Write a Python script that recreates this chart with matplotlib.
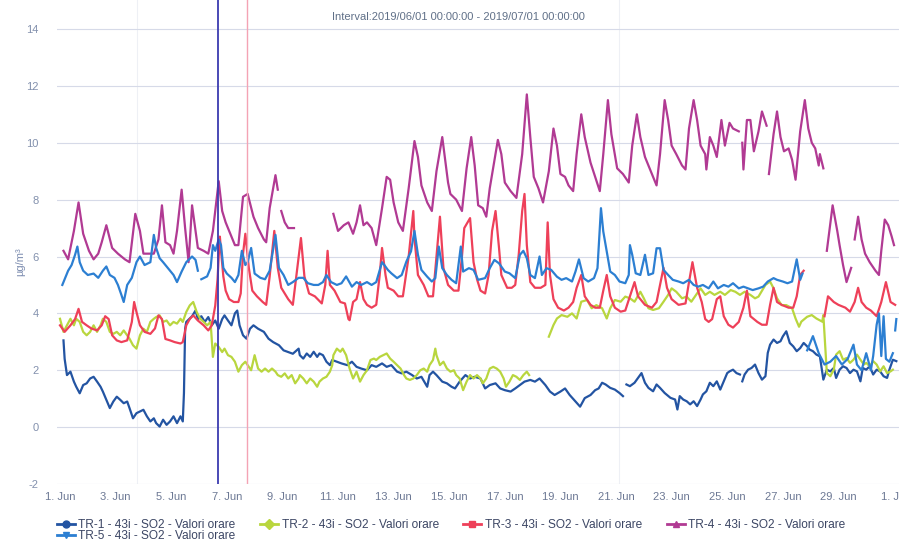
import numpy as np
import pandas as pd
import matplotlib
matplotlib.use("Agg")
import matplotlib.pyplot as plt
from matplotlib.lines import Line2D

nan = np.nan
start = pd.Timestamp("2019-06-01 00:00")

# hours since 1 Jun 00:00 and hourly SO2 values (ug/m3); nan = gap
tr1_h = [3, 4, 6, 9, 12, 14, 17, 20, 23, 26, 29, 32, 35, 37, 40, 43, 46, 49, 52, 55, 58, 60, 63, 66, 69, 72, 75, 78, 81, 83,
         86, 89, 92, 95, 98, 101, 104, 106, 107, 108, 109, 114, 117, 119, 122, 125, 128, 131, 134, 137, 140, 142, 145, 148,
         151, 153, 155, 158, 161, 164, 167, 171, 176, 180, 184, 189, 193, 197, 201, 206, 207, 210, 213, 216, 219, 222, 224,
         227, 230, 233, 235, 239, 243, 248, 252, 256, 260, 265, 269, 273, 278, 282, 286, 291, 295, 299, 304, 308, 312, 317,
         319, 322, 325, 330, 334, 338, 341, 345, 350, 354, 358, 363, 367, 371, 376, 380, 384, 389, 393, 397, 401, 406, 410,
         414, 419, 423, 427, 432, 436, 440, 445, 449, 453, 458, 462, 465, 468, 471, 475, 479, 483, 486, 487, 489, 492, 496,
         499, 502, 505, 508, 512, 515, 518, 522, 527, 531, 533, 535, 538, 541, 544, 547, 550, 553, 555, 558, 561, 564, 567,
         570, 573, 576, 578, 581, 584, 587, 588, 589, 591, 594, 597, 600, 603, 606, 609, 611, 613, 616, 619, 622, 624, 627,
         630, 633, 636, 639, 642, 645, 647, 650, 653, 656, 659, 662, 665, 668, 670, 673, 676, 679, 682, 685, 688, 691, 693,
         696, 699, 702, 705, 708, 711, 714, 716, 719, 722]
tr1_v = [3.05, 2.4, 1.83, 1.95, 1.6, 1.42, 1.19, 1.48, 1.54, 1.71, 1.77, 1.6, 1.42, 1.25, 0.96, 0.67, 0.9, 1.07, 0.96, 0.84,
         0.9, 0.67, 0.31, 0.49, 0.55, 0.61, 0.38, 0.2, 0.31, 0.14, 0.02, 0.26, 0.08, 0.2, 0.38, 0.14, 0.38, 0.2, 1.2, 3.46,
         3.7, 3.9, 4.1, 3.8, 3.9, 3.7, 3.87, 3.58, 3.75, 3.46, 3.8, 3.93, 3.75, 3.58, 4.0, 4.1, 3.58, 3.23, 3.11, 3.46, 3.58,
         3.46, 3.35, 3.11, 2.99, 2.88, 2.7, 2.64, 2.58, 2.76, 2.53, 2.41, 2.59, 2.47, 2.65, 2.47, 2.59, 2.53, 2.3, 2.18, 2.36,
         2.3, 2.24, 2.18, 2.3, 2.12, 2.06, 2.0, 2.18, 2.12, 2.24, 2.12, 2.18, 1.95, 1.89, 1.95, 1.83, 1.71, 1.77, 1.42, 1.83,
         1.95, 1.83, 1.6, 1.54, 1.42, 1.36, 1.6, 1.83, 1.71, 1.77, 1.71, 1.36, 1.48, 1.54, 1.36, 1.3, 1.25, 1.36, 1.48, 1.6,
         1.66, 1.6, 1.71, 1.48, 1.25, 1.13, 1.25, 1.36, 1.13, 0.9, 0.72, 1.02, 1.13, 1.3, 1.36, 1.56, 1.5, 1.38, 1.32, 1.2,
         1.09, nan, 1.5, 1.44, 1.56, 1.73, 1.9, 1.56, 1.38, 1.26, 1.5, 1.38, 1.2, 1.03, 0.97, 0.62, 1.09, 0.97, 0.91, 0.8,
         0.91, 0.74, 0.97, 1.15, 1.26, 1.56, 1.44, 1.61, 1.32, 1.61, 1.9, 1.96, 2.02, 1.9, 1.85, nan, 1.61, 1.85, 2.02, 2.08,
         2.2, 1.9, 1.67, 1.79, 2.61, 2.9, 3.08, 2.96, 3.02, 3.19, 3.37, 2.96, 2.84, 2.67, 2.78, 2.96, 2.84, 2.73, 2.67, 2.55,
         2.49, 1.67, 2.02, 1.96, 2.08, 1.73, 2.02, 2.14, 2.08, 1.9, 2.02, 1.96, 1.61, 2.08, 2.02, 2.14, 1.85, 2.02, 1.96,
         1.79, 1.73, 2.02, 2.37, 2.32]

tr2_h = [0, 3, 6, 9, 12, 14, 17, 20, 23, 26, 29, 32, 35, 37, 40, 43, 46, 49, 52, 55, 58, 60, 63, 66, 69, 72, 75, 78, 81, 83,
         86, 89, 92, 95, 98, 101, 104, 106, 109, 112, 115, 118, 121, 124, 127, 130, 132, 134, 137, 140, 142, 145, 148, 151,
         154, 157, 160, 163, 165, 168, 171, 174, 177, 180, 183, 186, 188, 191, 194, 197, 200, 203, 206, 207, 210, 213, 216,
         219, 222, 224, 227, 230, 233, 235, 236, 239, 242, 244, 247, 250, 253, 256, 259, 262, 265, 268, 271, 273, 276, 279,
         282, 285, 288, 291, 294, 297, 299, 302, 305, 308, 311, 314, 317, 319, 322, 324, 325, 328, 331, 334, 337, 340, 342,
         345, 348, 351, 354, 357, 360, 363, 365, 368, 371, 374, 377, 380, 383, 385, 388, 391, 394, 397, 400, 403, 405, 406,
         422, 426, 429, 433, 438, 442, 446, 450, 455, 459, 463, 468, 472, 475, 479, 484, 488, 492, 496, 501, 504, 508, 512,
         517, 521, 525, 528, 532, 537, 541, 545, 550, 553, 557, 561, 565, 570, 574, 579, 583, 587, 591, 596, 600, 603, 609,
         613, 616, 619, 623, 627, 632, 635, 638, 640, 645, 649, 653, 658, 659, 662, 665, 668, 670, 673, 676, 679, 682, 685,
         688, 691, 694, 696, 699, 702, 705, 708, 711, 714, 717, 719]
tr2_v = [3.81, 3.35, 3.58, 3.81, 3.58, 3.81, 3.7, 3.35, 3.23, 3.35, 3.58, 3.35, 3.58, 3.81, 3.7, 3.35, 3.28, 3.35, 3.23,
         3.4, 3.23, 3.11, 2.88, 2.76, 3.23, 3.46, 3.35, 3.7, 3.81, 3.87, 3.93, 3.7, 3.75, 3.58, 3.7, 3.64, 3.81, 3.7, 4.05,
         4.28, 4.4, 4.05, 3.81, 3.7, 3.58, 3.7, 2.47, 2.94, 2.82, 2.64, 2.76, 2.53, 2.47, 2.3, 1.95, 2.18, 2.3, 2.12, 2.0,
         2.53, 2.06, 1.95, 2.06, 1.95, 2.06, 1.95, 1.83, 1.77, 1.89, 1.71, 1.83, 1.54, 1.71, 1.83, 1.71, 1.54, 1.71, 1.6,
         1.42, 1.6, 1.71, 1.77, 1.95, 2.18, 2.53, 2.76, 2.65, 2.76, 2.53, 2.06, 1.71, 1.95, 1.6, 1.83, 2.0, 2.36, 2.41, 2.36,
         2.47, 2.53, 2.59, 2.41, 2.3, 2.18, 2.06, 1.83, 1.71, 1.66, 1.71, 1.83, 2.0, 2.06, 1.95, 2.18, 2.36, 2.76, 2.53,
         2.18, 2.3, 2.06, 1.95, 2.0, 1.83, 1.71, 1.3, 1.6, 1.83, 1.71, 1.83, 1.71, 1.54, 1.71, 2.06, 2.12, 2.06, 1.95, 1.71,
         1.42, 1.6, 1.83, 1.77, 1.66, 1.83, 1.95, 1.83, nan, 3.18, 3.59, 3.82, 3.94, 3.88, 4.0, 3.82, 4.41, 4.47, 4.18, 4.29,
         4.18, 3.82, 4.18, 4.47, 4.41, 4.59, 4.53, 4.41, 4.76, 4.53, 4.18, 4.12, 4.18, 4.41, 4.65, 4.88, 4.76, 4.53, 4.59,
         4.41, 4.7, 4.88, 4.65, 4.76, 4.65, 4.76, 4.65, 4.82, 4.76, 4.65, 4.76, 4.65, 4.53, 4.59, 5.0, 5.12, 4.88, 4.53,
         4.29, 4.29, 4.18, 3.82, 3.53, 3.71, 3.88, 3.94, 3.82, 3.71, 3.94, 1.9, 1.79, 2.02, 2.55, 2.67, 2.37, 2.43, 2.26,
         2.37, 2.55, 2.37, 2.2, 2.26, 2.14, 2.32, 2.2, 1.96, 2.14, 1.9, 1.96, 2.02]

tr3_h = [0, 4, 9, 13, 16, 19, 23, 27, 32, 36, 39, 42, 45, 49, 53, 58, 62, 64, 66, 69, 73, 78, 82, 85, 88, 91, 95, 99, 104,
         106, 109, 112, 115, 119, 124, 128, 131, 134, 136, 137, 138, 139, 141, 143, 146, 150, 154, 156, 158, 160, 163, 166,
         170, 175, 178, 181, 185, 188, 191, 197, 201, 204, 208, 211, 215, 220, 226, 229, 231, 233, 237, 242, 246, 249, 250,
         253, 256, 259, 262, 265, 269, 273, 276, 278, 281, 283, 288, 292, 296, 301, 305, 306, 309, 314, 318, 322, 325, 328,
         331, 335, 340, 344, 347, 349, 354, 357, 360, 363, 367, 370, 373, 376, 379, 381, 386, 390, 393, 396, 399, 401, 403,
         406, 410, 415, 419, 421, 423, 426, 430, 435, 439, 443, 446, 450, 453, 458, 462, 466, 469, 472, 475, 479, 484, 488,
         492, 496, 499, 505, 511, 515, 518, 521, 524, 528, 534, 540, 543, 546, 550, 554, 557, 560, 563, 567, 570, 573, 577,
         581, 586, 590, 593, 596, 602, 606, 610, 613, 616, 619, 623, 629, 633, 636, 639, 642, 643, 660, 663, 668, 672, 678,
         682, 686, 689, 692, 696, 700, 705, 709, 713, 717, 721]
tr3_v = [3.58, 3.35, 3.58, 3.8, 4.16, 3.7, 3.58, 3.47, 3.4, 3.58, 3.9, 3.8, 3.23, 3.05, 2.99, 3.05, 3.7, 4.4, 4.05, 3.58,
         3.35, 3.28, 3.47, 3.93, 3.8, 3.1, 3.05, 2.99, 2.94, 2.99, 3.58, 3.8, 3.93, 3.75, 3.58, 3.4, 3.58, 4.27, 5.2, 6.0,
         6.7, 6.2, 5.3, 4.8, 4.5, 4.4, 4.4, 4.7, 6.1, 6.8, 5.6, 4.8, 4.6, 4.4, 4.3, 5.3, 6.9, 5.6, 4.9, 4.5, 4.3, 5.3, 6.65,
         5.3, 4.7, 4.6, 4.35, 5.0, 6.2, 5.0, 4.8, 4.4, 4.35, 3.8, 3.76, 4.4, 4.5, 5.1, 4.5, 4.3, 4.2, 4.3, 5.35, 6.3, 5.35,
         4.9, 4.8, 4.6, 4.6, 6.0, 7.6, 6.65, 5.35, 5.0, 4.6, 4.6, 6.0, 7.4, 5.6, 5.0, 4.8, 4.8, 6.0, 7.0, 7.35, 5.8, 5.2,
         4.8, 4.7, 5.35, 6.9, 7.6, 6.3, 5.35, 4.9, 4.9, 5.0, 6.06, 7.6, 8.2, 6.4, 5.1, 4.9, 4.9, 5.0, 7.2, 5.35, 4.5, 4.2,
         4.1, 4.2, 4.4, 4.9, 5.35, 4.6, 4.3, 4.2, 4.2, 4.8, 5.35, 4.6, 4.2, 4.06, 4.1, 4.6, 5.1, 4.6, 4.3, 4.2, 4.4, 5.0,
         5.6, 4.9, 4.5, 4.3, 4.35, 5.1, 5.8, 4.9, 4.4, 3.8, 3.7, 3.8, 4.5, 4.6, 3.9, 3.6, 3.5, 3.7, 4.2, 4.8, 3.9, 3.7, 3.6,
         3.6, 4.3, 4.9, 4.4, 4.3, 4.2, 4.2, 4.6, 5.35, 5.5, nan, 3.9, 4.6, 4.4, 4.3, 4.2, 4.06, 4.4, 4.9, 4.4, 4.2, 4.1, 3.9,
         4.4, 5.1, 4.4, 4.3]

tr4_h = [3, 7, 12, 16, 20, 25, 29, 33, 36, 40, 45, 50, 56, 60, 65, 69, 72, 76, 81, 85, 88, 91, 95, 98, 101, 105, 108, 111,
         114, 117, 119, 124, 128, 132, 137, 140, 143, 147, 151, 154, 158, 162, 167, 171, 176, 178, 181, 186, 188, 189, 191,
         194, 197, 202, 203, 236, 240, 245, 249, 253, 256, 259, 262, 265, 269, 273, 278, 282, 285, 288, 292, 296, 301, 306,
         309, 312, 317, 321, 325, 330, 335, 337, 342, 347, 351, 355, 358, 361, 365, 368, 371, 376, 378, 381, 384, 389, 394,
         399, 403, 406, 409, 413, 417, 422, 426, 429, 432, 436, 439, 443, 446, 450, 453, 458, 462, 466, 469, 473, 476, 481,
         486, 491, 494, 498, 501, 505, 511, 515, 518, 522, 525, 528, 532, 537, 540, 543, 547, 550, 553, 557, 558, 561, 564,
         567, 571, 574, 578, 581, 586, 587, 589, 590, 593, 596, 599, 603, 606, 610, 611, 612, 616, 619, 622, 625, 629, 632,
         635, 639, 643, 646, 649, 652, 655, 656, 659, 660, 662, 667, 671, 673, 676, 679, 683, 684, 686, 689, 692, 695, 699,
         704, 707, 709, 712, 715, 718, 720]
tr4_v = [6.2, 5.9, 6.9, 7.9, 6.8, 6.2, 5.9, 6.1, 6.5, 7.1, 6.3, 6.1, 5.9, 5.8, 7.5, 6.9, 6.1, 6.1, 6.1, 6.6, 7.8, 6.5, 6.4,
         6.1, 6.9, 8.35, 7.0, 5.8, 7.8, 6.9, 6.3, 6.2, 6.1, 6.9, 8.65, 7.6, 7.2, 6.8, 6.4, 6.4, 8.1, 8.2, 7.4, 7.0, 6.6, 6.5,
         7.7, 8.86, 8.35, nan, 7.6, 7.2, 7.0, 7.0, nan, 7.5, 6.9, 7.1, 7.2, 6.8, 7.2, 7.8, 7.1, 7.2, 7.0, 6.4, 7.7, 8.8, 8.7,
         7.9, 7.2, 6.9, 8.4, 10.06, 9.5, 8.5, 7.9, 7.6, 9.0, 10.2, 8.6, 8.2, 8.0, 7.6, 9.1, 10.2, 9.2, 7.8, 7.7, 7.4, 8.4,
         9.6, 10.1, 9.6, 8.6, 8.3, 8.06, 9.6, 11.7, 10.2, 8.8, 8.4, 7.9, 9.0, 10.5, 9.9, 8.9, 8.8, 8.5, 8.3, 9.6, 11.0, 10.2,
         9.3, 8.8, 8.3, 9.6, 11.5, 10.3, 9.1, 8.9, 8.6, 9.9, 11.0, 10.2, 9.5, 8.9, 8.5, 9.6, 11.5, 10.8, 9.9, 9.6, 9.2, 9.06,
         10.5, 11.5, 10.8, 9.9, 9.6, 9.06, 10.2, 9.9, 9.5, 10.8, 9.9, 10.7, 10.5, 10.4, nan, 10.0, 9.06, 10.8, 10.8, 9.7,
         10.4, 11.1, 10.6, nan, 8.9, 10.3, 11.1, 10.2, 9.7, 9.8, 9.4, 8.7, 10.4, 11.5, 10.5, 10.0, 9.8, 9.2, 9.6, 9.1, nan,
         6.2, 7.8, 6.9, 6.4, 5.7, 5.1, 5.6, nan, 6.6, 7.4, 6.6, 6.1, 5.8, 5.5, 5.35, 6.2, 7.3, 7.1, 6.7, 6.4]

tr5_h = [2, 4, 7, 10, 13, 15, 17, 20, 24, 29, 33, 37, 40, 43, 47, 50, 53, 55, 58, 62, 66, 69, 73, 78, 81, 83, 86, 89, 93,
         98, 101, 105, 109, 114, 117, 119, 120, 122, 127, 130, 132, 134, 137, 139, 141, 144, 148, 151, 154, 157, 160, 162,
         165, 168, 173, 177, 181, 186, 189, 193, 197, 201, 206, 210, 214, 219, 223, 227, 230, 234, 239, 243, 247, 252, 256,
         260, 265, 269, 273, 278, 280, 283, 286, 291, 295, 299, 303, 306, 309, 312, 317, 321, 324, 327, 330, 334, 338, 342,
         346, 348, 353, 357, 361, 367, 371, 375, 379, 384, 388, 393, 397, 400, 403, 406, 410, 414, 416, 420, 424, 429, 433,
         437, 442, 445, 448, 452, 456, 461, 464, 467, 469, 472, 475, 479, 483, 488, 491, 492, 494, 497, 501, 505, 508, 512,
         515, 518, 521, 525, 529, 534, 538, 543, 547, 551, 555, 560, 564, 568, 573, 577, 581, 586, 590, 594, 598, 603, 607,
         611, 616, 619, 624, 628, 632, 636, 639, 641, 642, 645, 650, 655, 660, 665, 670, 675, 680, 685, 688, 692, 696, 700,
         702, 705, 707, 709, 711, 713, 716, 719, 720, 721, 722]
tr5_v = [5.0, 5.2, 5.5, 5.7, 6.06, 6.35, 5.8, 5.5, 5.35, 5.4, 5.25, 5.5, 5.65, 5.35, 5.25, 5.0, 4.65, 4.4, 5.0, 5.25, 5.8,
         6.0, 5.7, 5.8, 6.76, 6.3, 5.94, 5.8, 5.6, 5.35, 5.1, 5.47, 5.8, 6.0, 5.88, 5.5, nan, 5.2, 5.3, 5.6, 6.4, 6.2, 6.6,
         6.4, 5.6, 5.4, 5.25, 5.1, 5.35, 6.2, 5.7, 5.8, 6.3, 5.4, 5.25, 5.2, 5.5, 6.76, 5.6, 5.35, 5.0, 5.1, 5.25, 5.25,
         5.06, 5.0, 5.0, 5.1, 5.35, 5.1, 5.0, 5.06, 5.3, 4.94, 5.1, 5.0, 5.1, 5.0, 5.1, 5.8, 5.7, 5.53, 5.41, 5.24, 5.35,
         5.82, 6.18, 6.9, 6.06, 5.53, 5.29, 5.12, 5.24, 6.35, 5.59, 5.35, 5.18, 5.06, 6.35, 5.47, 5.59, 5.53, 5.18, 5.24,
         5.59, 5.88, 5.76, 5.47, 5.41, 5.24, 6.06, 6.2, 5.94, 5.35, 5.24, 6.0, 5.35, 5.59, 5.53, 5.29, 5.18, 5.24, 5.12,
         5.47, 5.9, 5.24, 5.12, 5.24, 5.59, 7.7, 6.88, 6.18, 5.47, 5.35, 5.12, 5.06, 5.35, 6.4, 6.06, 5.41, 5.35, 6.06,
         5.35, 5.41, 6.29, 6.29, 5.53, 5.35, 5.18, 5.12, 5.06, 5.18, 5.0, 4.94, 5.0, 4.88, 5.12, 4.88, 5.0, 4.94, 5.06,
         4.88, 4.94, 4.88, 4.82, 4.88, 4.94, 5.12, 5.24, 5.18, 5.12, 5.06, 5.12, 5.9, 5.18, 5.4, nan, 2.7, 3.2, 2.6, 2.2,
         2.3, 2.5, 2.2, 2.4, 2.9, 2.2, 2.0, 2.6, 2.0, 2.5, 3.6, 4.0, 2.5, 3.9, 2.4, 2.3, 2.6, nan, 3.4, 3.8]

series = [
    ("TR-1 - 43i - SO2 - Valori orare", tr1_h, tr1_v, "#2354a2", "o"),
    ("TR-2 - 43i - SO2 - Valori orare", tr2_h, tr2_v, "#b9d63e", "D"),
    ("TR-3 - 43i - SO2 - Valori orare", tr3_h, tr3_v, "#ee4059", "s"),
    ("TR-4 - 43i - SO2 - Valori orare", tr4_h, tr4_v, "#b13a93", "^"),
    ("TR-5 - 43i - SO2 - Valori orare", tr5_h, tr5_v, "#2c7fd2", "v"),
]

# marker lines (hours since start)
marker_lines = [(136.5, "#3c3cb0", 1.3), (161.5, "#f4a3b4", 1.0)]
faint_lines = [66.5, 482.5]

plt.rcParams["font.family"] = ["Liberation Sans", "DejaVu Sans"]
plt.rcParams["axes.unicode_minus"] = False

fig = plt.figure(figsize=(8.99, 5.42), dpi=100)
ax = fig.add_axes([57 / 899, 1 - 484 / 542, 842 / 899, 484 / 542])

for h in faint_lines:
    ax.axvline(start + pd.Timedelta(hours=h), color="#eef0f5", lw=0.8, zorder=0)

handles = []
for name, hrs, vals, col, mk in series:
    t = start + pd.to_timedelta(hrs, unit="h")
    ax.plot(t, vals, color=col, lw=1.6, zorder=2)
    handles.append(Line2D([0], [0], color=col, lw=2, marker=mk, markersize=5))

for h, col, lw in marker_lines:
    ax.axvline(start + pd.Timedelta(hours=h), color=col, lw=lw, zorder=3)

ax.set_ylim(-2, 15.02)
ax.set_xlim(start - pd.Timedelta(hours=2.6), start + pd.Timedelta(hours=724.3))
ax.set_yticks(np.arange(-2, 15, 2))
ax.grid(axis="y", color="#d6dae8", lw=0.8)
ax.set_axisbelow(True)
for s in ax.spines.values():
    s.set_visible(False)

ticks = pd.date_range("2019-06-01", "2019-07-01", freq="2D")
ax.set_xticks(ticks)
ax.set_xticklabels([f"{d.day}. {d.strftime('%b')}" for d in ticks])
ax.tick_params(axis="x", length=0, pad=6, labelsize=8, labelcolor="#6c7894")
ax.tick_params(axis="y", length=0, pad=13, labelsize=8, labelcolor="#8290ad")

fig.text(20 / 899, 1 - 262 / 542, "µg/m³", rotation=90, ha="center", va="center", fontsize=8, color="#7d8db0")
fig.text(458 / 899, 1 - 17 / 542, "Interval:2019/06/01 00:00:00 - 2019/07/01 00:00:00",
         ha="center", va="center", fontsize=8, color="#607088")

order = [0, 4, 1, 2, 3]
fig.legend([handles[i] for i in order], [series[i][0] for i in order], ncol=4, loc="upper left",
           bbox_to_anchor=(57 / 899, 1 - 519 / 542), frameon=False, fontsize=8.6, handlelength=1.5,
           handletextpad=0.3, columnspacing=2.05, labelspacing=-0.1, labelcolor="#3c4664",
           borderaxespad=0, borderpad=0)

fig.savefig("out.png", dpi=100)
